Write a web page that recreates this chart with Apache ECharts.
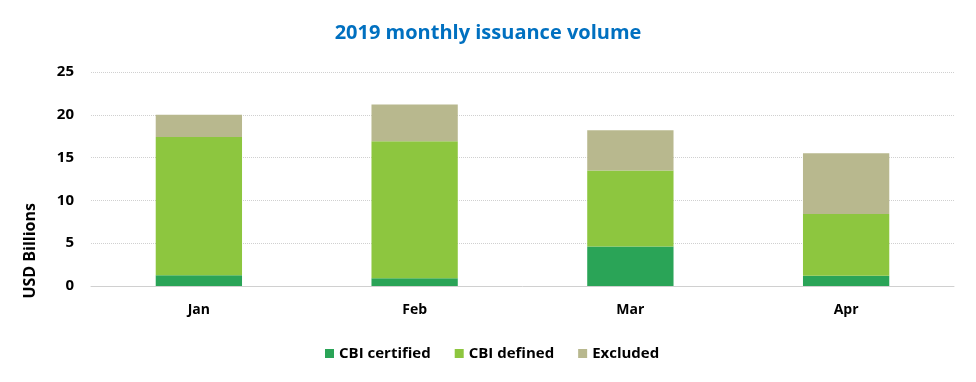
<!DOCTYPE html>
<html>
<head>
<meta charset="utf-8">
<script src="https://cdn.jsdelivr.net/npm/echarts@6/dist/echarts.min.js"></script>
<style>
html,body{margin:0;padding:0;background:#fff;}
#c{width:976px;height:382px;}
</style>
</head>
<body>
<div id="c"></div>
<script>
var categories = ['Jan', 'Feb', 'Mar', 'Apr'];
var cbiCertified = [1.25, 0.9, 4.6, 1.2];
var cbiDefined = [16.15, 16.0, 8.9, 7.2];
var excluded = [2.6, 4.3, 4.7, 7.1];
var seriesNames = ['CBI certified', 'CBI defined', 'Excluded'];
var colors = ['#2AA457', '#8DC63F', '#B8B88E'];

var chart = echarts.init(document.getElementById('c'), null, {renderer: 'canvas'});
var font = '"Open Sans", Arial, sans-serif';
var dataSets = [cbiCertified, cbiDefined, excluded];
chart.setOption({
  animation: false,
  title: {
    text: '2019 monthly issuance volume',
    left: 'center',
    top: 18,
    textStyle: {color: '#0070C0', fontSize: 20, fontWeight: 'bold', fontFamily: font}
  },
  legend: {
    top: 341,
    left: 320,
    itemWidth: 9,
    itemHeight: 9,
    itemGap: 24,
    icon: 'rect',
    textStyle: {color: '#000', fontSize: 15, fontWeight: 'bold', fontFamily: font},
    data: seriesNames
  },
  grid: {left: 91, right: 22, top: 72, bottom: 96},
  xAxis: {
    type: 'category',
    data: categories,
    axisLine: {show: true, lineStyle: {color: '#D0D0D0'}},
    axisTick: {show: false},
    axisLabel: {color: '#000', fontSize: 14, fontWeight: 'bold', fontFamily: font, margin: 17}
  },
  yAxis: {
    type: 'value',
    min: 0,
    max: 25,
    interval: 5,
    axisLine: {show: false},
    axisTick: {show: false},
    splitLine: {lineStyle: {color: '#D0D0D0', type: 'dotted', width: 1}},
    axisLabel: {color: '#000', fontSize: 15, fontWeight: 'bold', fontFamily: font, margin: 17}
  },
  graphic: [{
    type: 'text',
    left: 22,
    top: 203,
    rotation: Math.PI / 2,
    style: {text: 'USD Billions', fill: '#000', font: 'bold 16px ' + font}
  }],
  series: seriesNames.map(function (n, i) {
    return {
      name: n,
      type: 'bar',
      stack: 'total',
      barWidth: '40%',
      itemStyle: {color: colors[i]},
      data: dataSets[i]
    };
  })
});
</script>
</body>
</html>
